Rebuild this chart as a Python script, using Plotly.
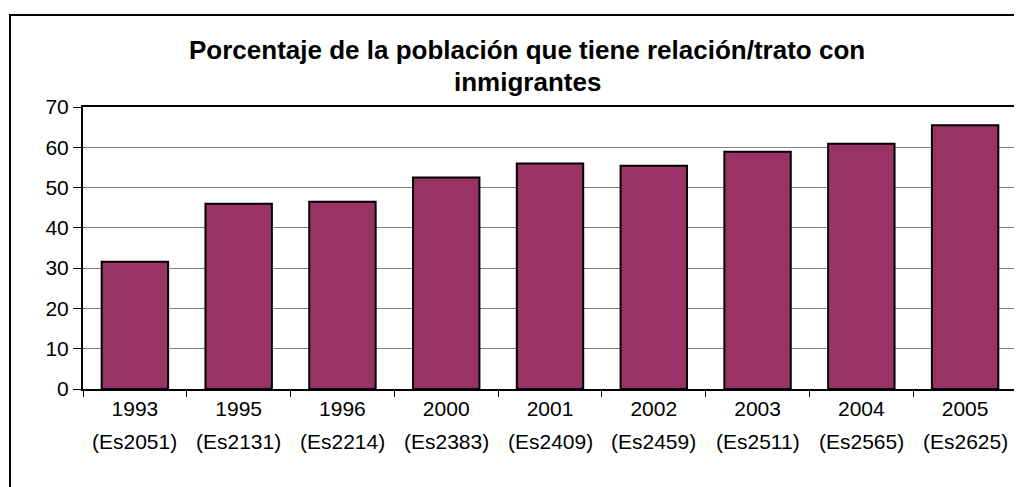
import plotly.graph_objects as go

years = ["1993", "1995", "1996", "2000", "2001", "2002", "2003", "2004", "2005"]
codes = ["(Es2051)", "(Es2131)", "(Es2214)", "(Es2383)", "(Es2409)", "(Es2459)", "(Es2511)", "(Es2565)", "(Es2625)"]
values = [31.6, 46.0, 46.5, 52.5, 56.0, 55.4, 58.9, 60.9, 65.5]
title_lines = ["Porcentaje de la población que tiene relación/trato con", "inmigrantes"]
y_ticks = [0, 10, 20, 30, 40, 50, 60, 70]

# page is rendered with an 8px body margin
OFF = 8
PAGE_W, PAGE_H = 1022, 487
W, H = PAGE_W - OFF, PAGE_H - OFF
# plot area in page pixels
L, R, T, B = 83, 1017, 107, 389
pw, ph = R - L, B - T

def px_x(x):
    return (x - L) / pw

def px_y(y):
    return (B - y) / ph

font_family = "Liberation Sans, Arial, sans-serif"

fig = go.Figure()
fig.add_trace(go.Bar(
    x=years, y=values,
    marker=dict(color="#993366", line=dict(color="black", width=2)),
    hoverinfo="x+y",
))

annotations = []
for i, c in enumerate(codes):
    annotations.append(dict(
        x=i, y=px_y(441), xref="x", yref="paper", text=c, showarrow=False,
        xanchor="center", yanchor="middle",
        font=dict(family=font_family, size=21, color="black"),
    ))
for txt, ypix in zip(title_lines, [50, 82]):
    annotations.append(dict(
        x=px_x(527), y=px_y(ypix), xref="paper", yref="paper", text="<b>%s</b>" % txt,
        showarrow=False, xanchor="center", yanchor="middle",
        font=dict(family=font_family, size=26, color="black"),
    ))

fig.update_layout(
    width=W, height=H,
    margin=dict(l=L - OFF, r=W - (R - OFF), t=T - OFF, b=H - (B - OFF), pad=0),
    paper_bgcolor="white", plot_bgcolor="white",
    bargap=0.36,
    showlegend=False,
    annotations=annotations,
    font=dict(family=font_family, size=21, color="black"),
    shapes=[dict(
        type="rect", xref="paper", yref="paper",
        x0=px_x(10), x1=px_x(1040), y0=px_y(520), y1=px_y(15),
        line=dict(color="black", width=2), fillcolor="rgba(0,0,0,0)", layer="below",
    )],
)
fig.update_xaxes(
    type="category", range=[-0.5, len(years) - 0.5],
    tickson="boundaries", ticks="outside", ticklen=6, tickcolor="black",
    showline=True, linecolor="black", linewidth=2, mirror=True,
    showgrid=False, tickfont=dict(family=font_family, size=21, color="black"),
    tickangle=0, automargin=False,
)
fig.update_yaxes(
    range=[0, 70], tickvals=y_ticks, ticks="outside", ticklen=8, tickcolor="black",
    showline=True, linecolor="black", linewidth=2, mirror=True,
    showgrid=True, gridcolor="#808080", gridwidth=1, zeroline=False,
    tickfont=dict(family=font_family, size=21, color="black"), automargin=False,
)

fig.write_html("out.html")
